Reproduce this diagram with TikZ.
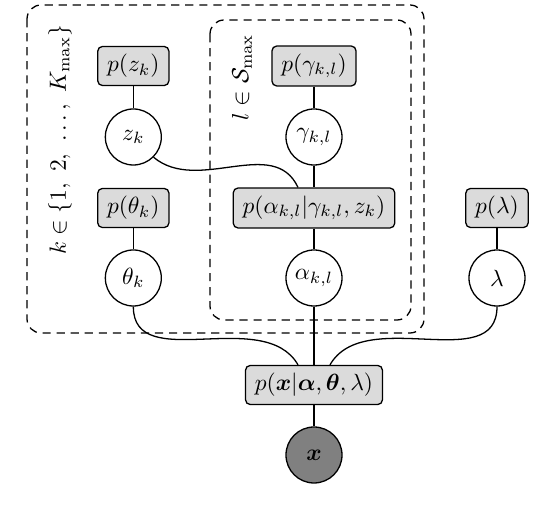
\documentclass[tikz,border=0pt]{standalone}
\usepackage{amsmath,amssymb,bm}
\usetikzlibrary{calc}

\begin{document}
\begin{tikzpicture}[fac/.style={draw,rounded corners=2pt,fill=black!14,inner xsep=4pt,minimum height=.56cm},var/.style={draw,circle,fill=white,minimum size=.84cm,inner sep=0pt},obs/.style={var,fill=black!50},plate/.style={dash pattern=on 3.5pt off 2.5pt,rounded corners=6pt},line width=.55pt]
\useasboundingbox(0,0)rectangle(8.1,-7.77);
\draw[plate](.405,-.075)rectangle(6.36,-4.995);\draw[plate](3.15,-.3)rectangle(6.165,-4.8);
\node[rotate=90](kset)at(.9,-2.1){$k\in\{1,\ 2,\ \ldots,\ K_{\max}\}$};\node[rotate=90](lset)at(3.63,-1.155){$l\in\mathcal{S}_{\max}$};
\node[fac](pz)at(2,-.99){$p(z_k)$};\node[var](z)at(2,-2.055){$z_k$};
\node[fac](pg)at(4.71,-.99){$p(\gamma_{k,l})$};\node[var](g)at(4.71,-2.055){$\gamma_{k,l}$};
\node[fac](pt)at(2,-3.12){$p(\theta_k)$};\node[var](t)at(2,-4.17){$\theta_k$};
\node[fac](pa)at(4.71,-3.12){$p(\alpha_{k,l}|\gamma_{k,l},z_k)$};\node[var](a)at(4.71,-4.17){$\alpha_{k,l}$};
\node[fac](pl)at(7.455,-3.12){$p(\lambda)$};\node[var](l)at(7.455,-4.17){$\lambda$};
\node[fac](px)at(4.71,-5.775){$p(\bm{x}|\bm{\alpha},\bm{\theta},\lambda)$};\node[obs](x)at(4.71,-6.825){$\bm{x}$};
\draw(pz)--(z);\draw(pg)--(g)--(pa)--(a)--(px)--(x);\draw(pt)--(t);\draw(pl)--(l);
\draw(z.-45)to[out=-40,in=115]($(pa.north)+(-.24,0)$);
\draw(t.south)to[out=-90,in=120]($(px.north)+(-.24,0)$);\draw(l.south)to[out=-90,in=60]($(px.north)+(.24,0)$);
\end{tikzpicture}
\end{document}
